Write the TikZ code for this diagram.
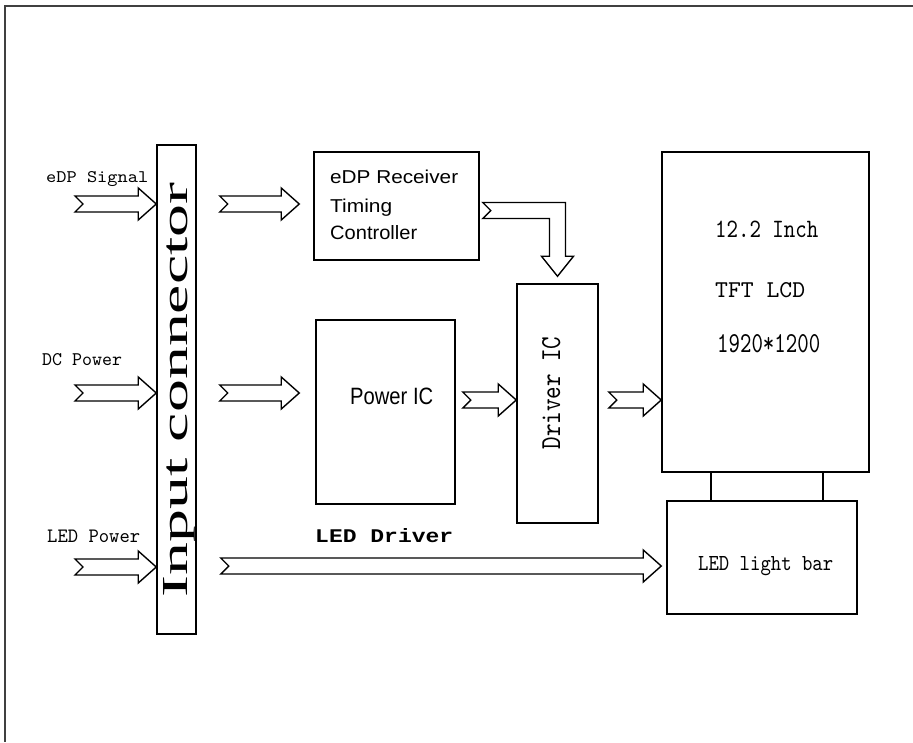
\documentclass[tikz,border=0pt]{standalone}
\usepackage{fontspec}
\setmainfont{Liberation Serif}
\newfontfamily\monob{Liberation Mono}
\newcommand{\monof}{\ttfamily}
\newfontfamily\sansf{Liberation Sans}
\usetikzlibrary{calc}
\newcommand{\fitt}[3]{\resizebox{#1pt}{#2pt}{#3}}
\newcommand{\harrow}[2]{\draw[blockarr] let \p1=(#1), \p2=(#2) in
  (\x1,\y1+8pt) -- (\x2-18pt,\y1+8pt) -- (\x2-18pt,\y1+16pt) -- (\x2,\y1)
  -- (\x2-18pt,\y1-16pt) -- (\x2-18pt,\y1-8pt) -- (\x1,\y1-8pt) -- (\x1+8pt,\y1) -- cycle;}
\begin{document}
\begin{tikzpicture}[x=1pt,y=-1pt,
  box/.style={draw=black, line width=1.5pt, inner sep=0pt},
  blockarr/.style={draw=black, line width=1.4pt, line join=miter, fill=white},
  txt/.style={inner sep=0pt, text=black},
  frame/.style={draw=black!75, line width=2.5pt},
  link/.style={draw=black, line width=1.5pt}]
\useasboundingbox (0,0) rectangle (913,742);
% frame
\draw[frame] (4,6) -- (913,6);
\draw[frame, line width=2pt] (5,6) -- (5,742);
% boxes
\node[box, minimum width=39pt, minimum height=489pt] (conn) at (176.5,389.5) {};
\node[box, minimum width=165pt, minimum height=108pt] (rec) at (396.5,206) {};
\node[box, minimum width=139pt, minimum height=184pt] (pic) at (385.5,412) {};
\node[box, minimum width=81pt, minimum height=239pt] (drv) at (557.5,403.5) {};
\node[box, minimum width=207pt, minimum height=320pt] (lcd) at (765.5,312) {};
\node[box, minimum width=190pt, minimum height=113pt] (bar) at (762,557.5) {};
% texts
\node[txt, rotate=90, anchor=base] (connT) at (187,390) {\fitt{415}{24}{Input connector}};
\node[txt, rotate=90, anchor=base] (drvT) at (560,393) {\fitt{113}{18}{\monof Driver IC}};
\node[txt, anchor=base west] (tA) at (46,182) {\fitt{102}{11}{\monof eDP Signal}};
\node[txt, anchor=base west] (tB) at (42,365) {\fitt{80}{12}{\monof DC Power}};
\node[txt, anchor=base west] (tC) at (47,542) {\fitt{93}{12.5}{\monof LED Power}};
\node[txt, anchor=base west] (recA) at (330,183) {\fitt{128}{13.5}{\sansf eDP Receiver}};
\node[txt, anchor=base west] (recB) at (330,212) {\fitt{62}{13.5}{\sansf Timing}};
\node[txt, anchor=base west] (recC) at (330,239) {\fitt{87}{14}{\sansf Controller}};
\node[txt, anchor=base west] (picT) at (350,404) {\fitt{83}{16.5}{\sansf Power IC}};
\node[txt, anchor=base west] (lcdA) at (715,237) {\fitt{103}{16.5}{\monof 12.2 Inch}};
\node[txt, anchor=base west] (lcdB) at (715,297) {\fitt{90}{15}{\monof TFT LCD}};
\node[txt, anchor=base west] (lcdC) at (717,352) {\fitt{103}{18}{\monof 1920*1200}};
\node[txt, anchor=base west] (barT) at (698,570) {\fitt{135}{14}{\monof LED light bar}};
\node[txt, anchor=base west] (ledD) at (315,542) {\fitt{138}{14}{\monob\bfseries LED Driver}};
% free ends
\coordinate (inA) at (75,204);
\coordinate (inB) at (75,393);
\coordinate (inC) at (75,567);
% arrows
\harrow{inA}{conn.west|-inA}
\harrow{inB}{conn.west|-inB}
\harrow{inC}{conn.west|-inC}
\harrow{$(conn.east|-inA)+(23,0)$}{$(rec.west|-inA)+(-14,0)$}
\harrow{$(conn.east|-inB)+(23,0)$}{$(pic.west|-inB)+(-16,0)$}
\harrow{$(pic.east)+(7,-12)$}{drv.west|-{$(pic.east)+(7,-12)$}}
\harrow{$(drv.east)+(10,-3.5)$}{lcd.west|-{$(drv.east)+(10,-3.5)$}}
\harrow{$(conn.east|-inC)+(24,-1)$}{$(bar.west)+(-5,8.5)$}
% elbow arrow receiver -> driver
\draw[blockarr] let \p1=(rec.east), \p2=(drv.north) in
  (\x1+3pt,\y1+3.5pt) -- (\x2+8pt,\y1+3.5pt) -- (\x2+8pt,\y2+27pt) -- (\x2+16pt,\y2+27pt)
  -- (\x2,\y2+7pt) -- (\x2-16pt,\y2+27pt) -- (\x2-8pt,\y2+27pt) -- (\x2-8pt,\y1-12.5pt)
  -- (\x1+3pt,\y1-12.5pt) -- (\x1+11pt,\y1-4.5pt) -- cycle;
% LCD to light bar links
\draw[link] (lcd.south -| 711,0) -- (bar.north -| 711,0);
\draw[link] (lcd.south -| 823,0) -- (bar.north -| 823,0);
\end{tikzpicture}
\end{document}
